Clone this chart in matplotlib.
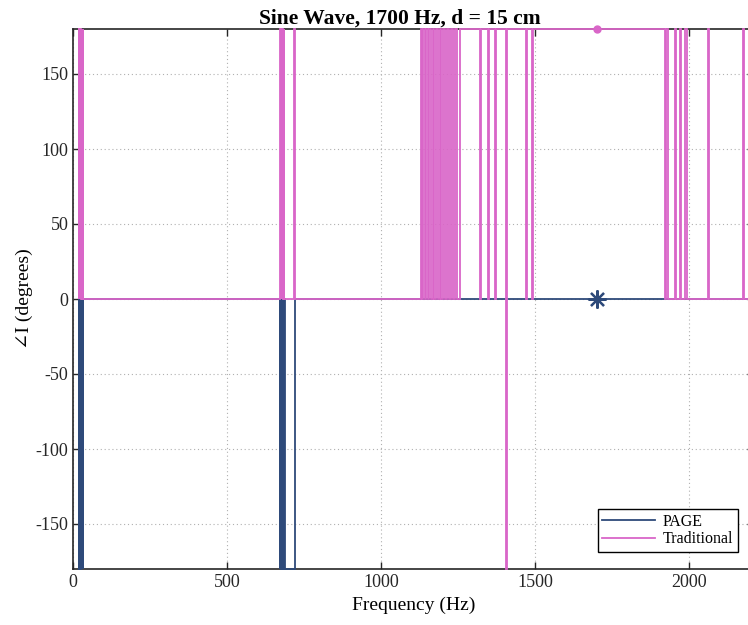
import matplotlib
matplotlib.use("Agg")
import matplotlib.pyplot as plt

# phase of the current vs frequency, stored as step segments:
# each list holds the start frequency of a segment and its phase level
page_start = [15, 17, 19, 21, 23, 25, 27, 29, 31, 33,
              670, 672, 674, 676, 678, 680, 682, 684, 686,
              717, 719]
page_level = [-180, 0, -180, 0, -180, 0, -180, 0, -180, 0,
              -180, 0, -180, 0, -180, 0, -180, 0, -180,
              -180, 0]
page_end = 2210

trad_start = [15, 17, 19, 21, 23, 25, 27, 29, 31, 33,
              671, 673, 675, 677, 679, 681, 683, 685,
              717, 719,
              1128, 1132, 1136, 1141, 1146, 1150, 1156, 1161, 1167, 1172,
              1178, 1183, 1189, 1194, 1200, 1206, 1213, 1219, 1226, 1233,
              1240, 1246, 1254,
              1320, 1323, 1346, 1349, 1369, 1372, 1404, 1407, 1470, 1473,
              1489, 1492,
              1921, 1925, 1930, 1954, 1957, 1970, 1973, 1986, 1994,
              2061, 2064, 2174, 2177]
trad_level = [180, 0, 180, 0, 180, 0, 180, 0, 180, 0,
              180, 0, 180, 0, 180, 0, 180, 0,
              180, 0,
              180, 0, 180, 0, 180, 0, 180, 0, 180, 0,
              180, 0, 180, 0, 180, 0, 180, 0, 180, 0,
              180, 0, 180,
              0, 180, 0, 180, 0, 180, -180, 180, 0, 180,
              0, 180,
              0, 180, 0, 180, 0, 180, 0, 180, 0,
              180, 0, 180, 0]
trad_end = 2210

target_freq = 1700
page_target = 0
trad_target = 180

x_ticks = [0, 500, 1000, 1500, 2000]
y_ticks = [-150, -100, -50, 0, 50, 100, 150]

page_color = "#2e4a7a"
trad_color = "#d966c8"

plt.rcParams["font.family"] = ["Liberation Serif", "DejaVu Serif"]
plt.rcParams["axes.unicode_minus"] = False

fig = plt.figure(figsize=(7.48, 6.25), dpi=100)
# axes runs a little past the right edge of the picture, like the cropped original
ax = fig.add_axes([73.3 / 748, 1 - 569 / 625, 680.7 / 748, 540 / 625])

ax.stairs(page_level, page_start + [page_end], baseline=None,
          color=page_color, linewidth=1.3, label="PAGE", zorder=3,
          clip_on=False)
ax.stairs(trad_level, trad_start + [trad_end], baseline=None,
          color=trad_color, linewidth=1.3, label="Traditional", zorder=3,
          clip_on=False)

ax.plot([target_freq], [page_target], marker=(8, 2, 0), markersize=13,
        color=page_color, markeredgewidth=1.6, linestyle="none",
        clip_on=False, zorder=4)
ax.plot([target_freq], [trad_target], marker="o", markersize=5,
        color=trad_color, linestyle="none", clip_on=False, zorder=4)

ax.set_xlim(0, 2210)
ax.set_ylim(-180, 180)
ax.set_xticks(x_ticks)
ax.set_yticks(y_ticks)
ax.tick_params(direction="in", top=True, right=True, length=5, width=1,
               labelsize=13, colors="#262626")
for s in ax.spines.values():
    s.set_linewidth(1.2)
    s.set_color("#262626")
ax.grid(True, linestyle=(0, (1, 2.5)), color="#b0b0b0", linewidth=0.8)

ax.set_title("Sine Wave, 1700 Hz, d = 15 cm", fontsize=15.5,
             fontweight="bold", pad=4, x=0.48)
ax.set_xlabel("Frequency (Hz)", fontsize=14)
ax.set_ylabel("\u2220I (degrees)", fontsize=14, labelpad=2)

leg = ax.legend(loc="lower right", bbox_to_anchor=(0.977, 0.031),
                borderaxespad=0, fontsize=11.5, fancybox=False,
                edgecolor="black", framealpha=1, handlelength=3.3,
                labelspacing=0.1, borderpad=0.3, handletextpad=0.5)
leg.get_frame().set_linewidth(1.0)
leg.set_zorder(5)

fig.savefig("out.png", dpi=100)
